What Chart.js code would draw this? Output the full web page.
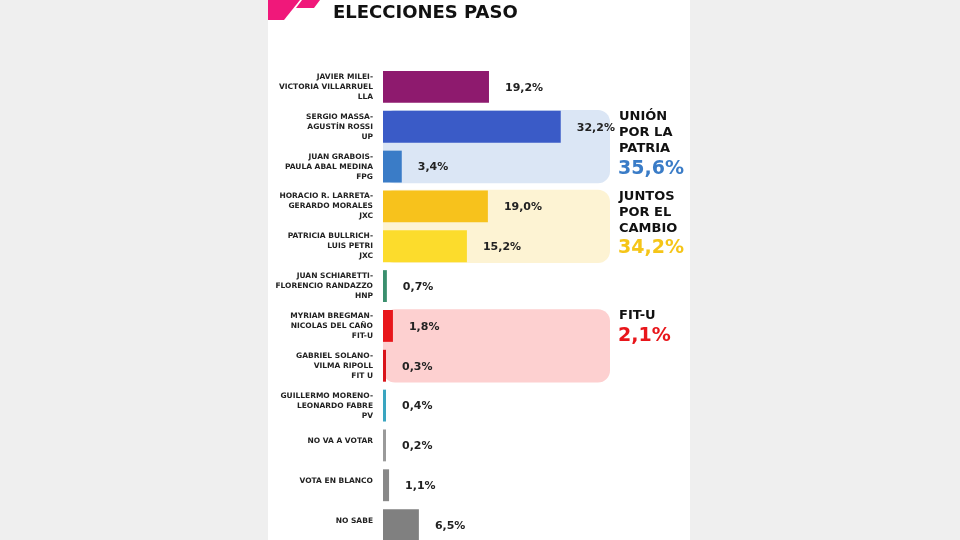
<!DOCTYPE html>
<html><head><meta charset="utf-8">
<script src="https://cdn.jsdelivr.net/npm/chart.js@4"></script>
<style>
html,body{margin:0;padding:0;background:#efefef;overflow:hidden;}
#wrap{position:relative;width:960px;height:540px;overflow:hidden;}
#panel{position:absolute;left:268px;top:0;width:422px;height:540px;background:#fff;}
canvas{position:absolute;left:0;top:0;}
</style></head><body>
<div id="wrap"><div id="panel"></div><canvas id="chart" width="960" height="550"></canvas></div>
<script>
// data
const candidates = [
  ['JAVIER MILEI-', 'VICTORIA VILLARRUEL', 'LLA'],
  ['SERGIO MASSA-', 'AGUSTÍN ROSSI', 'UP'],
  ['JUAN GRABOIS-', 'PAULA ABAL MEDINA', 'FPG'],
  ['HORACIO R. LARRETA-', 'GERARDO MORALES', 'JXC'],
  ['PATRICIA BULLRICH-', 'LUIS PETRI', 'JXC'],
  ['JUAN SCHIARETTI-', 'FLORENCIO RANDAZZO', 'HNP'],
  ['MYRIAM BREGMAN-', 'NICOLAS DEL CAÑO', 'FIT-U'],
  ['GABRIEL SOLANO-', 'VILMA RIPOLL', 'FIT U'],
  ['GUILLERMO MORENO-', 'LEONARDO FABRE', 'PV'],
  ['NO VA A VOTAR'],
  ['VOTA EN BLANCO'],
  ['NO SABE']
];
const votes = [19.2, 32.2, 3.4, 19.0, 15.2, 0.7, 1.8, 0.3, 0.4, 0.2, 1.1, 6.5];
const barColors = ['#8e1a6e', '#3a5bc7', '#3a7cc7', '#f7c21c', '#fcdc2c', '#3a8f6e',
                   '#e8161b', '#d9141a', '#3aa5c0', '#9a9a9a', '#888888', '#808080'];
const groups = [
  { from: 1, to: 2, name: ['UNIÓN', 'POR LA', 'PATRIA'], total: '35,6%', bg: '#dbe6f5', color: '#3a7cc7' },
  { from: 3, to: 4, name: ['JUNTOS', 'POR EL', 'CAMBIO'], total: '34,2%', bg: '#fdf3d3', color: '#f5c518' },
  { from: 6, to: 7, name: ['FIT-U'], total: '2,1%', bg: '#fdd0d0', color: '#e8161b' }
];

const fmt = v => v.toFixed(1).replace('.', ',') + '%';
const FONT = '"DejaVu Sans", sans-serif';

const decor = {
  id: 'decor',
  beforeDatasetsDraw(chart) {
    const c = chart.ctx, y = chart.scales.y, x = chart.scales.x;
    const band = (y.getPixelForValue(1) - y.getPixelForValue(0));
    groups.forEach(g => {
      const top = y.getPixelForValue(g.from) - band * 0.42;
      const bot = y.getPixelForValue(g.to) + band * 0.42;
      c.save();
      c.fillStyle = g.bg;
      c.beginPath();
      c.roundRect(x.left, top, 610 - x.left, bot - top, 12);
      c.fill();
      c.restore();
    });
  },
  afterDatasetsDraw(chart) {
    const c = chart.ctx, y = chart.scales.y, x = chart.scales.x;
    c.save();
    // title and corner mark
    c.fillStyle = '#f0187a';
    c.beginPath();
    c.moveTo(268, 0); c.lineTo(300, 0); c.lineTo(284, 20); c.lineTo(268, 20); c.closePath(); c.fill();
    c.beginPath();
    c.moveTo(302, 0); c.lineTo(320, 0); c.lineTo(314, 8); c.lineTo(296, 8); c.closePath(); c.fill();
    c.fillStyle = '#111';
    c.font = 'bold 18px ' + FONT;
    c.textBaseline = 'middle';
    c.fillText('ELECCIONES PASO', 333, 13);
    // row labels and values
    candidates.forEach((lines, i) => {
      const cy = y.getPixelForValue(i);
      c.font = 'bold 7.5px ' + FONT;
      c.textAlign = 'right';
      c.fillStyle = '#222';
      const n = lines.length;
      const y0 = n === 1 ? cy - 4 : cy - 10;
      lines.forEach((t, k) => c.fillText(t, 373, y0 + k * 10));
      c.textAlign = 'left';
      c.font = 'bold 11px ' + FONT;
      c.fillText(fmt(votes[i]), Math.max(x.getPixelForValue(votes[i]), 386) + 16, cy + 1);
    });
    // group totals
    groups.forEach(g => {
      const top = y.getPixelForValue(g.from) - 10;
      c.textAlign = 'left';
      c.fillStyle = '#111';
      c.font = 'bold 13px ' + FONT;
      g.name.forEach((t, k) => c.fillText(t, 619, top + k * 16));
      c.fillStyle = g.color;
      c.font = 'bold 19px ' + FONT;
      c.fillText(g.total, 618, top + g.name.length * 16 + 4);
    });
    c.restore();
  }
};

new Chart(document.getElementById('chart'), {
  type: 'bar',
  data: {
    labels: candidates.map(l => l.join(' ')),
    datasets: [{ data: votes, backgroundColor: barColors, barPercentage: 0.8, categoryPercentage: 1, minBarLength: 3 }]
  },
  options: {
    indexAxis: 'y',
    responsive: false,
    animation: false,
    layout: { padding: { left: 383, right: 301, top: 67, bottom: 5 } },
    plugins: { legend: { display: false }, tooltip: { enabled: false } },
    scales: {
      x: { min: 0, max: 50, display: false },
      y: { display: false }
    }
  },
  plugins: [decor]
});
</script>
</body></html>
